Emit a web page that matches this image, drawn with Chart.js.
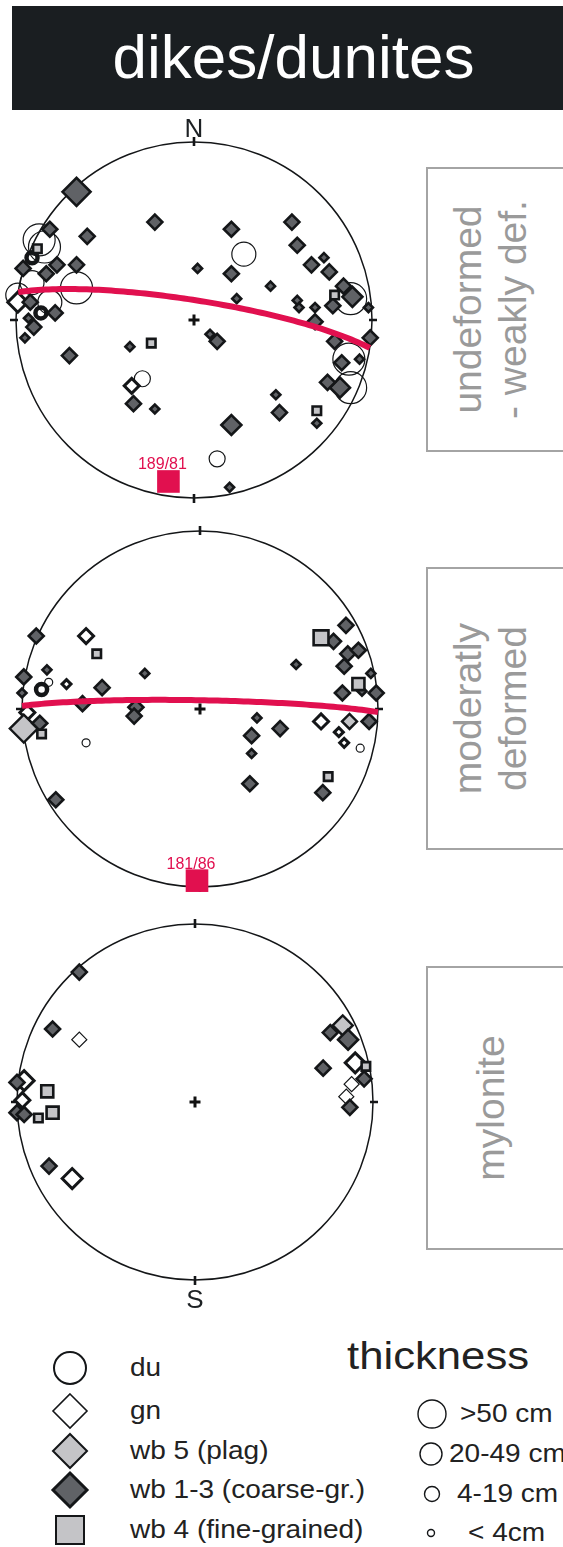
<!DOCTYPE html>
<html>
<head>
<meta charset="utf-8">
<title>dikes/dunites</title>
<script src="https://cdn.jsdelivr.net/npm/chart.js@4.4.1/dist/chart.umd.min.js"></script>
<style>
  html, body { margin: 0; padding: 0; background: #fff; }
  body { position: relative; width: 563px; height: 1547px; overflow: hidden;
         font-family: "Liberation Sans", Arial, Helvetica, sans-serif; color: #1d2124; }
  #title { position: absolute; left: 12px; top: 6px; width: 551px; height: 104px;
           background: #1a1e21; color: #fff; font-size: 62px; line-height: 102px;
           text-align: center; }
  #title span { display: inline-block; margin-left: 12px; }
  canvas.net { position: absolute; }
  .box { position: absolute; left: 426px; width: 160px; border: 2px solid #a4a4a4; border-right: none; }
  .box .rot { position: absolute; left: 0; top: 0; transform-origin: 0 0; color: #9a9a9a;
              font-size: 39px; text-align: center; }
  .box .rot div { position: absolute; left: 0; width: 100%; white-space: nowrap; }
  .leg { position: absolute; font-size: 25px; white-space: nowrap; color: #222; }
  .leg span { display: inline-block; transform-origin: 0 50%; transform: scaleX(1.12); }
  svg.sym { position: absolute; overflow: visible; }
</style>
</head>
<body>
<div id="title"><span>dikes/dunites</span></div>

<canvas id="net1" class="net" width="440" height="440" style="left:-26px;top:100px"></canvas>
<canvas id="net2" class="net" width="440" height="440" style="left:-20px;top:489px"></canvas>
<canvas id="net3" class="net" width="440" height="440" style="left:-25px;top:882px"></canvas>

<div class="box" style="top:167px;height:281px">
  <div class="rot" style="width:281px;height:137px;transform:translate(0,281px) rotate(-90deg)">
    <div style="top:18px">undeformed</div>
    <div style="top:63px">- weakly def.</div>
  </div>
</div>
<div class="box" style="top:567px;height:279px">
  <div class="rot" style="width:279px;height:137px;transform:translate(0,279px) rotate(-90deg)">
    <div style="top:18px">moderatly</div>
    <div style="top:63px">deformed</div>
  </div>
</div>
<div class="box" style="top:966px;height:280px">
  <div class="rot" style="width:280px;height:137px;transform:translate(0,280px) rotate(-90deg)">
    <div style="top:41px">mylonite</div>
  </div>
</div>

<div id="legend"></div>

<script>
// ---- thickness classes of the dikes ----
const thicknessClasses = ['<4', '4-19', '20-49', '>50'];
const thicknessLabels = ['>50 cm', '20-49 cm', '4-19 cm', '< 4cm'];

// ---- lithology types ----
const lithoNames = ['du', 'gn', 'wb 5 (plag)', 'wb 1-3 (coarse-gr.)', 'wb 4 (fine-grained)'];

// Poles to dikes, lower-hemisphere equal-area net, x = east, y = north,
// in percent of the net radius; third entry = thickness class.

// undeformed - weakly deformed
const undefDu = [[-87,45,'>50'],[-84,41,'>50'],[-91,21,'20-49'],[-99,14,'20-49'],[-81,10,'20-49'],
  [-66,18,'>50'],[88,12,'>50'],[87,-22,'>50'],[88,-38,'>50'],[28,37,'20-49'],[-29,-33,'4-19'],[13,-78,'4-19']];
const undefDuStack = [[-91,35,'4-19'],[-86,4,'4-19']];
const undefGn = [[-99,10,'20-49'],[-35,-37,'4-19']];
const undefWb5 = [];
const undefWb13 = [[-66,72,'>50'],[-22,55,'4-19'],[-81,51,'4-19'],[-60,47,'4-19'],[-96,29,'4-19'],
  [-77,31,'4-19'],[-83,26,'4-19'],[-66,31,'4-19'],[-92,10,'4-19'],[-78,4,'4-19'],[-90,-4,'4-19'],
  [-93,1,'<4'],[-95,-10,'<4'],[-70,-20,'4-19'],[-36,-15,'<4'],[-34,-47,'4-19'],[-22,-50,'<4'],
  [2,29,'<4'],[21,51,'4-19'],[55,55,'4-19'],[58,42,'4-19'],[21,26,'4-19'],[43,19,'<4'],[24,12,'<4'],
  [66,31,'4-19'],[73,35,'<4'],[76,27,'4-19'],[84,19,'4-19'],[89,13,'20-49'],[78,8,'4-19'],
  [58,11,'<4'],[59,7,'<4'],[68,7,'<4'],[98,7,'<4'],[68,-1,'4-19'],[9,-8,'<4'],[13,-12,'4-19'],
  [99,-10,'4-19'],[79,-12,'4-19'],[83,-24,'4-19'],[93,-22,'<4'],[82,-38,'20-49'],[75,-35,'4-19'],
  [46,-42,'<4'],[48,-52,'4-19'],[69,-58,'<4'],[21,-59,'20-49'],[20,-94,'<4']];
const undefWb4 = [[-88,40,'<4'],[-24,-13,'<4'],[79,14,'<4'],[69,-51,'<4']];
const undefPole = [189, 81];   // pole trend / dip of mean dike plane

// moderately deformed
const modDu = [[-64,-19,'<4'],[90,-22,'<4'],[-85,15,'<4']];
const modDuStack = [[-89,11,'4-19']];
const modGn = [[-64,41,'4-19'],[-75,14,'<4'],[-97,-2,'4-19'],[68,-7,'4-19'],[78,-13,'<4'],[81,-19,'<4']];
const modWb5 = [[-99,-11,'>50'],[84,-7,'4-19']];
const modWb13 = [[-92,41,'4-19'],[-86,22,'<4'],[-31,20,'<4'],[-99,18,'4-19'],[-55,12,'4-19'],
  [-100,9,'<4'],[-66,3,'4-19'],[-36,1,'4-19'],[-37,-4,'4-19'],[-90,-8,'4-19'],[-81,-51,'4-19'],
  [82,47,'4-19'],[75,38,'4-19'],[83,31,'4-19'],[89,33,'4-19'],[81,24,'4-19'],[54,25,'<4'],
  [96,20,'<4'],[99,9,'4-19'],[80,9,'4-19'],[91,10,'<4'],[32,-5,'<4'],[29,-15,'4-19'],[45,-11,'4-19'],
  [95,-7,'4-19'],[29,-25,'<4'],[28,-42,'4-19'],[69,-47,'4-19']];
const modWb4 = [[-58,31,'<4'],[-89,-14,'<4'],[68,40,'20-49'],[89,14,'4-19'],[72,-38,'<4']];
const modPole = [181, 86];

// mylonite
const mylDu = [];
const mylDuStack = [];
const mylGn = [[-96,12,'20-49'],[-69,-43,'20-49'],[90,22,'20-49'],[-97,1,'4-19']];
const mylGnThin = [[-65,35,'4-19'],[88,10,'4-19'],[85,3,'4-19']];
const mylWb5 = [[83,43,'20-49']];
const mylWb13 = [[-65,73,'4-19'],[-80,41,'4-19'],[-100,11,'4-19'],[-100,-6,'4-19'],[-96,-7,'4-19'],
  [-82,-36,'4-19'],[76,39,'4-19'],[86,35,'20-49'],[95,13,'4-19'],[72,19,'4-19'],[87,-3,'4-19']];
const mylWb4 = [[-83,6,'4-19'],[-80,-6,'4-19'],[-88,-9,'<4'],[96,20,'<4']];

// ---- drawing styles ----
const INK = '#141618';
const RED = '#e1104f';
const DARK = '#606266';
const LIGHT = '#c4c4c7';
const R_NET = 178;          // px of primitive circle
const HALF = 220;           // half canvas size, px
const LIM = HALF / R_NET * 100;

const sizeDiamond = { '<4': 4.5, '4-19': 7.5, '20-49': 10, '>50': 14 };
const sizeCircle  = { '<4': 4, '4-19': 8, '20-49': 12, '>50': 16 };
const sizeSquare  = { '<4': 6, '4-19': 8.5, '20-49': 10.5, '>50': 12 };

function marks(label, pts, shape, sizes, fill, border, order) {
  return {
    label,
    data: pts.map(([x, y, t]) => ({ x, y, t })),
    pointStyle: shape,
    pointRadius: c => (c.raw && sizes[c.raw.t]) || 5,
    pointBackgroundColor: fill,
    pointBorderColor: INK,
    pointBorderWidth: border,
    showLine: false,
    clip: false,
    order
  };
}

// equal-area projection of a line (trend, plunge in degrees) -> percent of radius
function project(trend, plunge) {
  const d = Math.PI / 180;
  const r = Math.SQRT2 * Math.sin((90 - plunge) * d / 2) * 100;
  return { x: r * Math.sin(trend * d), y: r * Math.cos(trend * d) };
}

// great circle of the plane whose pole has the given trend, plane dip = dip
function greatCircle(poleTrend, dip) {
  const d = Math.PI / 180;
  const dipDir = (poleTrend + 180) % 360;
  const sAz = (dipDir - 90) * d;
  const s = [Math.cos(sAz), Math.sin(sAz), 0];
  const dv = [Math.cos(dipDir * d) * Math.cos(dip * d), Math.sin(dipDir * d) * Math.cos(dip * d), Math.sin(dip * d)];
  const out = [];
  for (let a = 0; a <= 180; a += 2) {
    const c = Math.cos(a * d), sn = Math.sin(a * d);
    const v = [c * s[0] + sn * dv[0], c * s[1] + sn * dv[1], c * s[2] + sn * dv[2]];
    const plunge = Math.asin(Math.min(1, Math.max(-1, v[2]))) / d;
    const trend = Math.atan2(v[1], v[0]) / d;
    out.push(project(trend, plunge));
  }
  return out;
}

const stereoFrame = {
  id: 'stereoFrame',
  beforeDatasetsDraw(chart) {
    const { ctx, scales: { x, y } } = chart;
    const cx = x.getPixelForValue(0), cy = y.getPixelForValue(0);
    const r = x.getPixelForValue(100) - cx;
    ctx.save();
    ctx.strokeStyle = INK;
    ctx.lineWidth = 1.5;
    ctx.beginPath();
    ctx.arc(cx, cy, r, 0, Math.PI * 2);
    ctx.stroke();
    ctx.lineWidth = 2.6;
    ctx.beginPath();
    ctx.moveTo(cx, cy - r - 5); ctx.lineTo(cx, cy - r + 4);
    ctx.moveTo(cx, cy + r - 4); ctx.lineTo(cx, cy + r + 5);
    ctx.moveTo(cx - r - 6, cy); ctx.lineTo(cx - r + 2, cy);
    ctx.moveTo(cx + r - 3, cy); ctx.lineTo(cx + r + 5, cy);
    ctx.stroke();
    ctx.restore();
  },
  afterDatasetsDraw(chart, args, opts) {
    const { ctx, scales: { x, y } } = chart;
    const cx = x.getPixelForValue(0), cy = y.getPixelForValue(0);
    const r = x.getPixelForValue(100) - cx;
    ctx.save();
    ctx.fillStyle = '#111';
    ctx.fillRect(cx - 5.5, cy - 1.5, 11, 3);
    ctx.fillRect(cx - 1.5, cy - 5.5, 3, 11);
    ctx.font = '26px "Liberation Sans", Arial, sans-serif';
    ctx.textAlign = 'center';
    ctx.fillStyle = '#1d2124';
    if (opts.north) { ctx.textBaseline = 'alphabetic'; ctx.fillText(opts.north, cx, cy - r - 5); }
    if (opts.south) { ctx.textBaseline = 'top'; ctx.fillText(opts.south, cx, cy + r + 8); }
    if (opts.pole) {
      const p = project(opts.pole[0], 90 - opts.pole[1]);
      ctx.font = '16px "Liberation Sans", Arial, sans-serif';
      ctx.fillStyle = RED;
      ctx.textBaseline = 'alphabetic';
      ctx.fillText(opts.pole[0] + '/' + opts.pole[1], x.getPixelForValue(p.x) - 6, y.getPixelForValue(p.y) - 12);
    }
    ctx.restore();
  }
};

function makeNet(id, sets, pole, extra) {
  const datasets = [];
  if (pole) {
    const p = project(pole[0], 90 - pole[1]);
    datasets.push({ label: 'pole', data: [p], pointStyle: 'rect', pointRadius: 16,
      pointBackgroundColor: RED, pointBorderWidth: 0, clip: false, order: 0 });
    datasets.push({ label: 'plane', data: greatCircle(pole[0], pole[1]), showLine: true,
      borderColor: RED, borderWidth: 6, pointRadius: 0, clip: false, order: 1, borderCapStyle: 'butt' });
  }
  datasets.push(marks('wb 4', sets.wb4, 'rect', sizeSquare, LIGHT, 2.6, 2));
  datasets.push(marks('wb 1-3', sets.wb13, 'rectRot', sizeDiamond, DARK, 2.6, 3));
  datasets.push(marks('wb 5', sets.wb5, 'rectRot', sizeDiamond, LIGHT, 2.4, 4));
  datasets.push(marks('gn', sets.gn, 'rectRot', sizeDiamond, '#ffffff', 3, 5));
  if (sets.gnThin) datasets.push(marks('gn', sets.gnThin, 'rectRot', sizeDiamond, '#ffffff', 1.2, 5));
  datasets.push(marks('du', sets.du, 'circle', sizeCircle, 'rgba(0,0,0,0)', 1.2, 6));
  datasets.push(marks('du', sets.duStack, 'circle', { '4-19': 5.5, '<4': 4 }, '#ffffff', 4.5, 6));

  return new Chart(document.getElementById(id), {
    type: 'scatter',
    data: { datasets },
    options: {
      responsive: false,
      animation: false,
      events: [],
      layout: { padding: 0, autoPadding: false },
      scales: {
        x: { type: 'linear', min: -LIM, max: LIM, display: false },
        y: { type: 'linear', min: -LIM, max: LIM, display: false }
      },
      plugins: {
        legend: { display: false },
        tooltip: { enabled: false },
        stereoFrame: Object.assign({ pole }, extra)
      }
    },
    plugins: [stereoFrame]
  });
}

makeNet('net1', { du: undefDu, duStack: undefDuStack, gn: undefGn, wb5: undefWb5, wb13: undefWb13, wb4: undefWb4 },
  undefPole, { north: 'N' });
makeNet('net2', { du: modDu, duStack: modDuStack, gn: modGn, wb5: modWb5, wb13: modWb13, wb4: modWb4 },
  modPole, {});
makeNet('net3', { du: mylDu, duStack: mylDuStack, gn: mylGn, gnThin: mylGnThin, wb5: mylWb5, wb13: mylWb13, wb4: mylWb4 },
  null, { south: 'S' });

// ---- legend ----
const legendRowsY = [1368, 1411, 1451, 1490, 1530];
const thickRowsY = [1414, 1454, 1494, 1533];
const thickRadius = [14, 11, 7.5, 3.5];
const lg = document.getElementById('legend');
const svgNS = 'http://www.w3.org/2000/svg';
function symbol(cx, cy, kind) {
  const s = document.createElementNS(svgNS, 'svg');
  s.setAttribute('class', 'sym');
  s.setAttribute('width', 1); s.setAttribute('height', 1);
  s.style.left = cx + 'px'; s.style.top = cy + 'px';
  let el;
  if (kind.shape === 'circle') {
    el = document.createElementNS(svgNS, 'circle');
    el.setAttribute('r', kind.r);
  } else if (kind.shape === 'diamond') {
    el = document.createElementNS(svgNS, 'polygon');
    const r = kind.r;
    el.setAttribute('points', `0,${-r} ${r},0 0,${r} ${-r},0`);
  } else {
    el = document.createElementNS(svgNS, 'rect');
    el.setAttribute('x', -kind.r); el.setAttribute('y', -kind.r);
    el.setAttribute('width', 2 * kind.r); el.setAttribute('height', 2 * kind.r);
  }
  el.setAttribute('fill', kind.fill);
  el.setAttribute('stroke', INK);
  el.setAttribute('stroke-width', kind.w);
  s.appendChild(el);
  lg.appendChild(s);
}
const legendSymbols = [
  { shape: 'circle', r: 16, fill: '#fff', w: 2 },
  { shape: 'diamond', r: 17, fill: '#fff', w: 1.6 },
  { shape: 'diamond', r: 17, fill: LIGHT, w: 2 },
  { shape: 'diamond', r: 17, fill: DARK, w: 3 },
  { shape: 'square', r: 14, fill: LIGHT, w: 2 }
];
lithoNames.forEach((name, i) => {
  symbol(70, legendRowsY[i], legendSymbols[i]);
  const d = document.createElement('div');
  d.className = 'leg';
  d.style.left = '130px';
  d.style.top = (legendRowsY[i] - 15) + 'px';
  d.innerHTML = '<span></span>';
  d.firstChild.textContent = name;
  lg.appendChild(d);
});
const th = document.createElement('div');
th.className = 'leg';
th.style.left = '347px'; th.style.top = '1334px'; th.style.fontSize = '39px';
th.innerHTML = '<span>thickness</span>';
lg.appendChild(th);
const thickX = [432, 431, 432, 431];
const thickTextX = [460, 449, 457, 468];
thicknessLabels.forEach((t, i) => {
  symbol(thickX[i], thickRowsY[i], { shape: 'circle', r: thickRadius[i], fill: '#fff', w: 1.4 });
  const d = document.createElement('div');
  d.className = 'leg';
  d.style.left = thickTextX[i] + 'px';
  d.style.top = (thickRowsY[i] - 15) + 'px';
  d.innerHTML = '<span></span>';
  d.firstChild.textContent = t;
  lg.appendChild(d);
});
</script>
</body>
</html>
